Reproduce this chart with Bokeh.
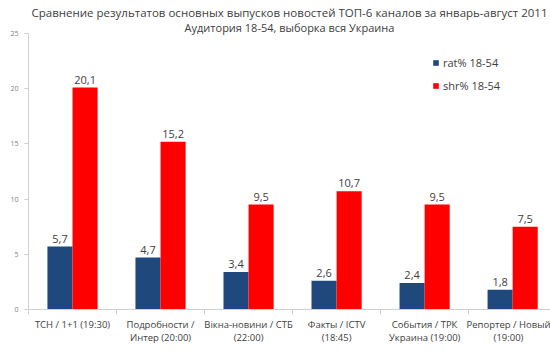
from bokeh.plotting import figure
from bokeh.models import ColumnDataSource, Range1d, FixedTicker, Legend, LegendItem, Title
from bokeh.core.properties import value
from bokeh.embed import file_html
from bokeh.resources import INLINE
import numpy as np

categories = ["ТСН / 1+1 (19:30)", "Подробности /\nИнтер (20:00)", "Вікна-новини / СТБ\n(22:00)",
              "Факты / ICTV\n(18:45)", "События / ТРК\nУкраина (19:00)", "Репортер / Новый\n(19:00)"]
rat = [5.7, 4.7, 3.4, 2.6, 2.4, 1.8]
shr = [20.1, 15.2, 9.5, 10.7, 9.5, 7.5]
series_names = ["rat% 18-54", "shr% 18-54"]
y_ticks = [0, 5, 10, 15, 20, 25]
title_lines = ["Сравнение результатов основных выпусков новостей ТОП-6 каналов за январь-август 2011",
               "Аудитория 18-54, выборка вся Украина"]

FONT = "Open Sans"
BLUE = "#1F497D"
RED = "#FF0000"
BW = 0.285

idx = np.arange(len(categories))
centers = idx + 0.5
src = ColumnDataSource(dict(
    xb=centers - BW / 2, xr=centers + BW / 2,
    rat=rat, shr=shr,
    rat_l=[f"{v:.1f}".replace(".", ",") for v in rat],
    shr_l=[f"{v:.1f}".replace(".", ",") for v in shr],
))

p = figure(width=550, height=354, output_backend="svg", toolbar_location=None,
           x_range=Range1d(0, 5.93), y_range=Range1d(0, 25),
           min_border_left=28, min_border_right=0, min_border_top=33, min_border_bottom=45)
p.outline_line_color = None
p.xgrid.visible = False
p.ygrid.visible = False
p.background_fill_color = "white"
p.border_fill_color = "white"
p.title.visible = False

rb = p.vbar(x="xb", top="rat", width=BW, bottom=0, source=src, fill_color=BLUE, line_color=None)
rr = p.vbar(x="xr", top="shr", width=BW, bottom=0, source=src, fill_color=RED, line_color=None)

p.text(x="xb", y="rat", text="rat_l", source=src, text_align="center", text_baseline="bottom",
       y_offset=-4, text_font=value(FONT), text_font_size="11px", text_color="#404040")
p.text(x="xr", y="shr", text="shr_l", source=src, text_align="center", text_baseline="bottom",
       y_offset=-4, text_font=value(FONT), text_font_size="11px", text_color="#404040")

xa = p.xaxis[0]
xa.ticker = FixedTicker(ticks=list(centers), minor_ticks=list(np.arange(len(categories) + 1)))
xa.major_label_overrides = {float(c): lab for c, lab in zip(centers, categories)}
xa.major_tick_out = 0
xa.major_tick_in = 0
xa.minor_tick_out = 5
xa.minor_tick_in = 0
xa.minor_tick_line_color = "#d0d0d0"
xa.axis_line_color = "#d0d0d0"
xa.major_label_text_font = FONT
xa.major_label_text_font_size = "9.5px"
xa.major_label_text_color = "#404040"
xa.major_label_text_line_height = 1.0
xa.major_label_standoff = 3

ya = p.yaxis[0]
ya.ticker = FixedTicker(ticks=y_ticks, minor_ticks=[])
ya.axis_line_color = "#d0d0d0"
ya.major_tick_line_color = "#d0d0d0"
ya.major_tick_out = 4
ya.major_tick_in = 0
ya.major_label_text_font = FONT
ya.major_label_text_font_size = "7px"
ya.major_label_text_color = "#808080"
ya.major_label_standoff = 6

legend = Legend(items=[LegendItem(label=series_names[0], renderers=[rb]),
                       LegendItem(label=series_names[1], renderers=[rr])],
                location=(404, 216), orientation="vertical",
                glyph_width=7, glyph_height=7, label_text_font=FONT, label_text_font_size="11px",
                label_text_color="#404040", spacing=8, padding=0, margin=0,
                border_line_color=None, background_fill_alpha=0, label_standoff=4)
p.add_layout(legend)

t2 = Title(text=title_lines[1], align="center", text_font=FONT, text_font_size="11px",
           text_font_style="normal", text_color="#404040", standoff=-2)
t1 = Title(text=title_lines[0], align="center", text_font=FONT, text_font_size="11.5px",
           text_font_style="normal", text_color="#404040", standoff=-2)
p.add_layout(t2, "above")
p.add_layout(t1, "above")

open("out.html", "w").write(file_html(p, INLINE))
